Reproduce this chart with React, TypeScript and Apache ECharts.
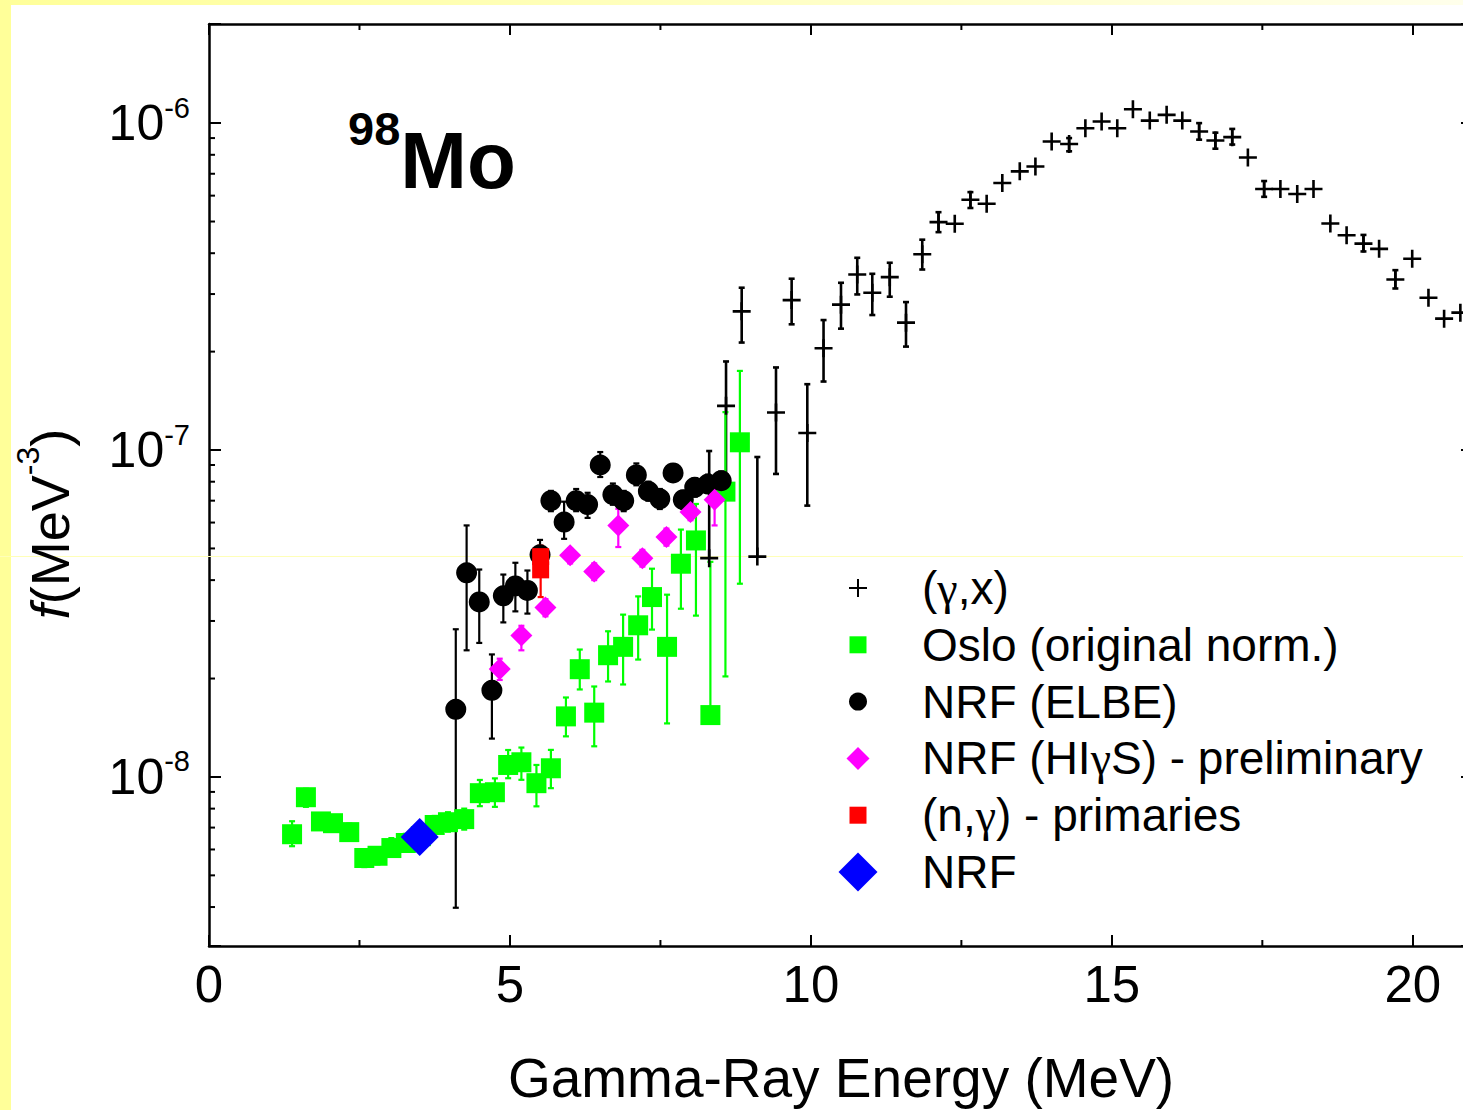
import React, { useEffect, useRef } from "react";
import * as echarts from "echarts";

const FONT = '"Liberation Sans", Arial, Helvetica, sans-serif';

// Photon strength function of 98Mo, f in MeV^-3 versus gamma-ray energy in MeV.
// Rows: [E, f, lower bound, upper bound]; a null bound means no bar on that side.
const gammaX: (number | null)[][] = [
  [8.31, 4.67e-8, null, 9.93e-8],
  [8.59, 1.365e-7, 8.39e-8, 1.866e-7],
  [8.85, 2.656e-7, 2.132e-7, 3.137e-7],
  [9.11, 4.72e-8, null, 9.52e-8],
  [9.42, 1.303e-7, 8.45e-8, 1.789e-7],
  [9.68, 2.875e-7, 2.424e-7, 3.342e-7],
  [9.94, 1.127e-7, 6.76e-8, 1.59e-7],
  [10.21, 2.048e-7, 1.62e-7, 2.498e-7],
  [10.5, 2.784e-7, 2.351e-7, 3.248e-7],
  [10.77, 3.444e-7, 2.992e-7, 3.873e-7],
  [11.02, 3.029e-7, 2.588e-7, 3.46e-7],
  [11.31, 3.379e-7, 2.944e-7, 3.74e-7],
  [11.58, 2.453e-7, 2.072e-7, 2.835e-7],
  [11.85, 3.972e-7, 3.566e-7, 4.4e-7],
  [12.12, 4.98e-7, 4.64e-7, 5.34e-7],
  [12.39, 4.92e-7, null, null],
  [12.65, 5.83e-7, 5.5e-7, 6.15e-7],
  [12.92, 5.67e-7, null, null],
  [13.18, 6.56e-7, null, null],
  [13.47, 7.12e-7, null, null],
  [13.73, 7.37e-7, null, null],
  [14.0, 8.79e-7, null, null],
  [14.29, 8.63e-7, 8.2e-7, 9.0e-7],
  [14.56, 9.65e-7, null, null],
  [14.83, 1.011e-6, null, null],
  [15.09, 9.65e-7, null, null],
  [15.35, 1.103e-6, null, null],
  [15.63, 1.018e-6, null, null],
  [15.91, 1.06e-6, null, null],
  [16.17, 1.018e-6, null, null],
  [16.45, 9.43e-7, 8.9e-7, 1.0e-6],
  [16.72, 8.85e-7, 8.35e-7, 9.35e-7],
  [17.0, 9.06e-7, 8.6e-7, 9.6e-7],
  [17.26, 7.85e-7, null, null],
  [17.53, 6.29e-7, 5.95e-7, 6.65e-7],
  [17.8, 6.29e-7, null, null],
  [18.08, 6.07e-7, null, null],
  [18.35, 6.29e-7, null, null],
  [18.63, 4.93e-7, null, null],
  [18.9, 4.54e-7, null, null],
  [19.18, 4.28e-7, 4.05e-7, 4.55e-7],
  [19.44, 4.125e-7, null, null],
  [19.71, 3.325e-7, 3.12e-7, 3.55e-7],
  [19.99, 3.846e-7, null, null],
  [20.26, 2.924e-7, null, null],
  [20.52, 2.523e-7, null, null],
  [20.79, 2.632e-7, null, null],
];

const oslo: (number | null)[][] = [
  [1.38, 6.68e-9, 6.14e-9, 7.32e-9],
  [1.61, 8.67e-9, 8.1e-9, 9.2e-9],
  [1.86, 7.31e-9, 6.9e-9, 7.7e-9],
  [2.06, 7.22e-9, 6.8e-9, 7.6e-9],
  [2.33, 6.78e-9, 6.4e-9, 7.2e-9],
  [2.58, 5.65e-9, 5.3e-9, 6.0e-9],
  [2.8, 5.74e-9, 5.4e-9, 6.1e-9],
  [3.03, 6.06e-9, 5.7e-9, 6.5e-9],
  [3.27, 6.28e-9, 5.9e-9, 6.7e-9],
  [3.52, 6.59e-9, 6.2e-9, 7.0e-9],
  [3.75, 7.13e-9, 6.7e-9, 7.6e-9],
  [3.97, 7.27e-9, 6.8e-9, 7.8e-9],
  [4.24, 7.43e-9, 6.9e-9, 8.0e-9],
  [4.5, 8.92e-9, 8.14e-9, 9.79e-9],
  [4.75, 8.98e-9, 8.1e-9, 9.9e-9],
  [4.97, 1.088e-8, 9.91e-9, 1.209e-8],
  [5.19, 1.109e-8, 9.8e-9, 1.23e-8],
  [5.44, 9.57e-9, 8.13e-9, 1.088e-8],
  [5.68, 1.063e-8, 9.24e-9, 1.21e-8],
  [5.93, 1.532e-8, 1.331e-8, 1.75e-8],
  [6.16, 2.136e-8, 1.852e-8, 2.453e-8],
  [6.4, 1.573e-8, 1.241e-8, 1.891e-8],
  [6.63, 2.357e-8, 1.959e-8, 2.79e-8],
  [6.88, 2.5e-8, 1.918e-8, 3.137e-8],
  [7.13, 2.91e-8, 2.286e-8, 3.567e-8],
  [7.36, 3.55e-8, 2.823e-8, 4.335e-8],
  [7.61, 2.5e-8, 1.458e-8, 3.61e-8],
  [7.84, 4.49e-8, 3.27e-8, 5.71e-8],
  [8.09, 5.29e-8, 3.115e-8, 6.84e-8],
  [8.33, 1.546e-8, null, 4.55e-8],
  [8.58, 7.46e-8, 2.03e-8, 1.306e-7],
  [8.82, 1.056e-7, 3.9e-8, 1.746e-7],
];

const nrfElbe: (number | null)[][] = [
  [4.1, 1.61e-8, 3.98e-9, 2.83e-8],
  [4.28, 4.21e-8, 2.44e-8, 5.88e-8],
  [4.49, 3.43e-8, 2.57e-8, 4.31e-8],
  [4.7, 1.84e-8, 1.31e-8, 2.37e-8],
  [4.89, 3.58e-8, 2.97e-8, 4.16e-8],
  [5.09, 3.84e-8, 3.21e-8, 4.52e-8],
  [5.29, 3.72e-8, 3.16e-8, 4.28e-8],
  [5.5, 4.78e-8, 4.3e-8, 5.31e-8],
  [5.68, 7.0e-8, 6.5e-8, 7.5e-8],
  [5.9, 6.02e-8, 5.35e-8, 6.95e-8],
  [6.1, 7.0e-8, 6.5e-8, 7.6e-8],
  [6.29, 6.81e-8, 6.2e-8, 7.4e-8],
  [6.5, 9.0e-8, 8.27e-8, 9.86e-8],
  [6.71, 7.3e-8, 6.8e-8, 7.9e-8],
  [6.89, 7.0e-8, 6.5e-8, 7.5e-8],
  [7.1, 8.39e-8, 7.8e-8, 9.1e-8],
  [7.3, 7.48e-8, 7.0e-8, 8.0e-8],
  [7.49, 7.09e-8, 6.6e-8, 7.6e-8],
  [7.71, 8.51e-8, 8.0e-8, 9.0e-8],
  [7.88, 7.05e-8, 6.6e-8, 7.5e-8],
  [8.07, 7.69e-8, 7.2e-8, 8.2e-8],
  [8.29, 7.87e-8, 7.4e-8, 8.4e-8],
  [8.51, 8.06e-8, 7.6e-8, 8.6e-8],
];

const nrfHigs: (number | null)[][] = [
  [4.83, 2.14e-8, 1.98e-8, 2.3e-8],
  [5.19, 2.71e-8, 2.44e-8, 2.9e-8],
  [5.59, 3.3e-8, 3.1e-8, 3.5e-8],
  [6.0, 4.77e-8, 4.5e-8, 5.0e-8],
  [6.4, 4.25e-8, 4.0e-8, 4.5e-8],
  [6.8, 5.88e-8, 5.05e-8, 6.61e-8],
  [7.2, 4.67e-8, 4.4e-8, 4.95e-8],
  [7.6, 5.42e-8, 5.1e-8, 5.75e-8],
  [8.0, 6.46e-8, 6.1e-8, 6.85e-8],
  [8.4, 7.05e-8, 5.88e-8, 8.06e-8],
];

const nGammaPrimaries: (number | null)[][] = [
  [5.51, 4.72e-8, null, 5.1e-8],
  [5.51, 4.3e-8, 3.55e-8, null],
];

const nrfPoint: number[][] = [[3.5, 6.55e-9]];

// Minor tick positions (drawn inward on all four frame sides)
const xMinorTicks = [2.5, 7.5, 12.5, 17.5];
const yMinorTicks = [
  4e-9, 5e-9, 6e-9, 7e-9, 8e-9, 9e-9,
  2e-8, 3e-8, 4e-8, 5e-8, 6e-8, 7e-8, 8e-8, 9e-8,
  2e-7, 3e-7, 4e-7, 5e-7, 6e-7, 7e-7, 8e-7, 9e-7,
];

const legendLabels = [
  "(γ,x)",
  "Oslo (original norm.)",
  "NRF (ELBE)",
  "NRF (HIγS) - preliminary",
  "(n,γ) - primaries",
  "NRF",
];

const legendMarkers = [
  { shape: "plus", color: "#000000", size: 18 },
  { shape: "square", color: "#00FF00", size: 17 },
  { shape: "circle", color: "#000000", size: 18 },
  { shape: "diamond", color: "#FF00FF", size: 23 },
  { shape: "square", color: "#FF0000", size: 17 },
  { shape: "diamond", color: "#0000FF", size: 39 },
];

const crossSymbol = "path://M0,7.7H18V10.3H0ZM7.7,0H10.3V18H7.7Z";

// The frame's right edge runs a little past the visible page, so the canvas is wider than its clip box.
const VIEW_W = 1463;
const VIEW_H = 1110;
const CANVAS_W = 1480;

function barRows(rows: (number | null)[][]) {
  return rows
    .filter((r) => r[2] != null || r[3] != null)
    .map((r) => [
      r[0],
      r[1],
      r[2] ?? r[1],
      r[3] ?? r[1],
      r[2] != null ? 1 : 0,
      r[3] != null ? 1 : 0,
    ]);
}

function errorBarSeries(id: string, rows: (number | null)[][], color: string, width: number) {
  return {
    type: "custom",
    id,
    silent: true,
    data: barRows(rows),
    encode: { x: 0, y: 1 },
    renderItem: (_params: any, api: any) => {
      const x = api.value(0);
      const lo = api.coord([x, api.value(2)]);
      const hi = api.coord([x, api.value(3)]);
      const style = { stroke: color, lineWidth: width };
      const children: any[] = [
        { type: "line", shape: { x1: lo[0], y1: lo[1], x2: hi[0], y2: hi[1] }, style },
      ];
      if (api.value(4)) {
        children.push({ type: "line", shape: { x1: lo[0] - 3, y1: lo[1], x2: lo[0] + 3, y2: lo[1] }, style });
      }
      if (api.value(5)) {
        children.push({ type: "line", shape: { x1: hi[0] - 3, y1: hi[1], x2: hi[0] + 3, y2: hi[1] }, style });
      }
      return { type: "group", children };
    },
  };
}

function scatterSeries(name: string, rows: (number | null)[][], symbol: string, size: number, color: string) {
  return {
    type: "scatter",
    name,
    silent: true,
    data: rows.map((r) => [r[0], r[1]]),
    symbol,
    symbolSize: size,
    itemStyle: { color, opacity: 1 },
  };
}

function minorTickSeries() {
  const data = [
    ...xMinorTicks.map((v) => [v, 1e-8, 0]),
    ...yMinorTicks.map((v) => [1, v, 1]),
  ];
  return {
    type: "custom",
    id: "minor-ticks",
    silent: true,
    clip: false,
    data,
    encode: { x: 0, y: 1 },
    renderItem: (params: any, api: any) => {
      const cs = params.coordSys;
      const style = { stroke: "#000", lineWidth: 2 };
      const len = 6;
      if (api.value(2) === 0) {
        const p = api.coord([api.value(0), 1e-8]);
        const b = cs.y + cs.height;
        return {
          type: "group",
          children: [
            { type: "line", shape: { x1: p[0], y1: b, x2: p[0], y2: b - len }, style },
            { type: "line", shape: { x1: p[0], y1: cs.y, x2: p[0], y2: cs.y + len }, style },
          ],
        };
      }
      const p = api.coord([1, api.value(1)]);
      const r = cs.x + cs.width;
      return {
        type: "group",
        children: [
          { type: "line", shape: { x1: cs.x, y1: p[1], x2: cs.x + len, y2: p[1] }, style },
          { type: "line", shape: { x1: r, y1: p[1], x2: r - len, y2: p[1] }, style },
        ],
      };
    },
  };
}

function richGamma(label: string) {
  return label.split("γ").join("{g|γ}");
}

function legendGraphics() {
  const items: any[] = [];
  const cx = 858;
  const textX = 922;
  legendLabels.forEach((label, i) => {
    const cy = 588 + i * 56.8;
    const m = legendMarkers[i];
    const h = m.size / 2;
    if (m.shape === "plus") {
      items.push({ type: "line", shape: { x1: cx - h, y1: cy, x2: cx + h, y2: cy }, style: { stroke: m.color, lineWidth: 2 } });
      items.push({ type: "line", shape: { x1: cx, y1: cy - h, x2: cx, y2: cy + h }, style: { stroke: m.color, lineWidth: 2 } });
    } else if (m.shape === "square") {
      items.push({ type: "rect", shape: { x: cx - h, y: cy - h, width: m.size, height: m.size }, style: { fill: m.color } });
    } else if (m.shape === "circle") {
      items.push({ type: "circle", shape: { cx, cy, r: h }, style: { fill: m.color } });
    } else {
      items.push({
        type: "polygon",
        shape: { points: [[cx, cy - h], [cx + h, cy], [cx, cy + h], [cx - h, cy]] },
        style: { fill: m.color },
      });
    }
    items.push({
      type: "text",
      x: textX,
      y: cy,
      style: {
        text: richGamma(label),
        font: `46px ${FONT}`,
        fill: "#000",
        textAlign: "left",
        textVerticalAlign: "middle",
        rich: { g: { fontFamily: '"Liberation Serif", serif', fontSize: 46, fill: "#000" } },
      },
    });
  });
  return items;
}

function buildOption(): any {
  const axisLineStyle = { color: "#000", width: 2.5 };
  const tickStyle = { color: "#000", width: 2 };
  const xBase = {
    type: "value",
    min: 0,
    max: 21,
    interval: 5,
    splitLine: { show: false },
    axisLine: { show: true, onZero: false, lineStyle: axisLineStyle },
    axisTick: { show: true, inside: true, length: 11, lineStyle: tickStyle },
  };
  const yBase = {
    type: "log",
    logBase: 10,
    min: 3.04e-9,
    max: 2.01e-6,
    splitLine: { show: false },
    axisLine: { show: true, onZero: false, lineStyle: axisLineStyle },
    axisTick: { show: true, inside: true, length: 12, lineStyle: tickStyle },
  };
  return {
    animation: false,
    backgroundColor: "#ffffff",
    textStyle: { fontFamily: FONT },
    grid: { left: 209, top: 24, right: CANVAS_W - 1473, bottom: 162, containLabel: false },
    xAxis: [
      {
        ...xBase,
        position: "bottom",
        name: "Gamma-Ray Energy (MeV)",
        nameLocation: "middle",
        nameGap: 104,
        nameTextStyle: { fontSize: 55, color: "#000", fontFamily: FONT },
        axisLabel: {
          show: true,
          fontSize: 51,
          color: "#000",
          fontFamily: FONT,
          margin: 13,
          showMaxLabel: false,
        },
      },
      { ...xBase, position: "top", axisLabel: { show: false } },
    ],
    yAxis: [
      {
        ...yBase,
        position: "left",
        axisLabel: {
          show: true,
          margin: 19,
          color: "#000",
          fontFamily: FONT,
          formatter: (v: number) => {
            const l = Math.log10(v);
            const e = Math.round(l);
            if (Math.abs(l - e) > 1e-6) return "";
            return `{b|10}{s|${e}}`;
          },
          rich: {
            b: { fontSize: 50, lineHeight: 60, color: "#000", fontFamily: FONT },
            s: { fontSize: 29, lineHeight: 20, verticalAlign: "top", color: "#000", fontFamily: FONT },
          },
        },
      },
      { ...yBase, position: "right", axisLabel: { show: false } },
    ],
    series: [
      minorTickSeries(),
      errorBarSeries("gx-err", gammaX, "#000000", 2.6),
      scatterSeries("(γ,x)", gammaX, crossSymbol, 18, "#000000"),
      errorBarSeries("oslo-err", oslo, "#00FF00", 2.2),
      scatterSeries("Oslo (original norm.)", oslo, "rect", 20, "#00FF00"),
      errorBarSeries("elbe-err", nrfElbe, "#000000", 2.2),
      scatterSeries("NRF (ELBE)", nrfElbe, "circle", 21, "#000000"),
      errorBarSeries("higs-err", nrfHigs, "#FF00FF", 2.2),
      scatterSeries("NRF (HIγS) - preliminary", nrfHigs, "diamond", 22, "#FF00FF"),
      errorBarSeries("ng-err", nGammaPrimaries, "#FF0000", 2.2),
      scatterSeries("(n,γ) - primaries", nGammaPrimaries, "rect", 17, "#FF0000"),
      scatterSeries("NRF", nrfPoint, "diamond", 38, "#0000FF"),
    ],
    graphic: [
      // slide frame: yellow strips along the left and top edges
      { type: "rect", z: 0, shape: { x: 0, y: 0, width: 11, height: VIEW_H }, style: { fill: "#FFFF99" } },
      {
        type: "rect",
        z: 0,
        shape: { x: 0, y: 0, width: CANVAS_W, height: 5 },
        style: {
          fill: new echarts.graphic.LinearGradient(0, 0, 1, 0, [
            { offset: 0, color: "#FFFF99" },
            { offset: 1, color: "#FFFFEC" },
          ]),
        },
      },
      { type: "line", z: 1, shape: { x1: 0, y1: 556.5, x2: CANVAS_W, y2: 556.5 }, style: { stroke: "#FFFFB8", lineWidth: 1 } },
      // nucleus label
      {
        type: "text",
        x: 348,
        y: 160,
        z: 10,
        style: {
          text: "{a|98}{b|Mo}",
          textAlign: "left",
          textVerticalAlign: "middle",
          fill: "#000",
          rich: {
            a: { fontSize: 47, fontWeight: "bold", lineHeight: 39, verticalAlign: "top", fontFamily: FONT, fill: "#000" },
            b: { fontSize: 80, fontWeight: "bold", lineHeight: 110, fontFamily: FONT, fill: "#000" },
          },
        },
      },
      // y-axis title
      {
        type: "text",
        x: 50,
        y: 524,
        rotation: Math.PI / 2,
        z: 10,
        style: {
          text: "{i|f}{n|(MeV}{s|-3}{n|)}",
          textAlign: "center",
          textVerticalAlign: "middle",
          fill: "#000",
          rich: {
            i: { fontSize: 54, fontStyle: "italic", lineHeight: 76, fontFamily: FONT, fill: "#000" },
            n: { fontSize: 54, lineHeight: 76, fontFamily: FONT, fill: "#000" },
            s: { fontSize: 32, lineHeight: 22, verticalAlign: "top", fontFamily: FONT, fill: "#000" },
          },
        },
      },
      ...legendGraphics().map((g) => ({ ...g, z: 10 })),
    ],
  };
}

export default function App() {
  const ref = useRef<HTMLDivElement>(null);
  useEffect(() => {
    if (!ref.current) return;
    const chart = echarts.init(ref.current, null, { renderer: "svg" });
    chart.setOption(buildOption());
    return () => chart.dispose();
  }, []);
  return (
    <div
      style={{
        position: "absolute",
        left: 0,
        top: 0,
        width: VIEW_W,
        height: VIEW_H,
        overflow: "hidden",
        background: "#fff",
      }}
    >
      <div ref={ref} style={{ width: CANVAS_W, height: VIEW_H }} />
    </div>
  );
}
